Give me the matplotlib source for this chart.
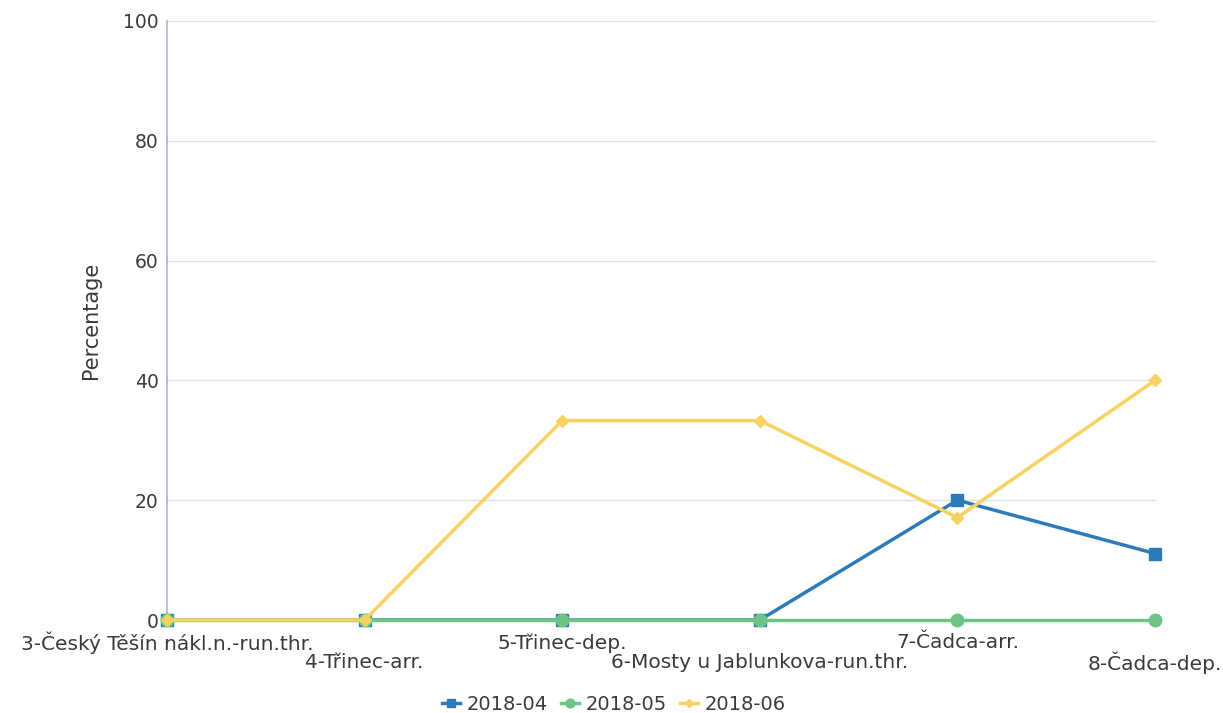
import matplotlib
matplotlib.use("Agg")
import matplotlib.pyplot as plt
import numpy as np

# data
stations = ["3-Český Těšín nákl.n.-run.thr.", "4-Třinec-arr.", "5-Třinec-dep.",
            "6-Mosty u Jablunkova-run.thr.", "7-Čadca-arr.", "8-Čadca-dep."]
s_04 = [0, 0, 0, 0, 20, 11.1]
s_05 = [0, 0, 0, 0, 0, 0]
s_06 = [0, 0, 33.3, 33.3, 17.1, 40]
yticks = [0, 20, 40, 60, 80, 100]

plt.rcParams['font.family'] = ['DejaVu Sans']
textcol = '#3a3a3a'

fig = plt.figure(figsize=(12.23, 7.13), dpi=100)
ax = fig.add_axes([167/1223, 93/713, 990/1223, 599/713])

x = np.arange(len(stations))
ax.plot(x, s_04, color='#2b7bba', lw=2.5, marker='s', ms=9, label='2018-04', zorder=3, clip_on=False)
ax.plot(x, s_05, color='#6cc486', lw=2.5, marker='o', ms=9, label='2018-05', zorder=4, clip_on=False)
ax.plot(x, s_06, color='#f7d260', lw=2.5, marker='D', ms=6, label='2018-06', zorder=5, clip_on=False)

ax.set_xlim(0, 5.01)
ax.set_ylim(0, 100)
ax.set_yticks(yticks)
ax.set_yticklabels([str(v) for v in yticks], fontsize=13.5, color=textcol)
ax.yaxis.grid(True, color='#e3e3e3', lw=1)
ax.set_axisbelow(True)
ax.tick_params(axis='y', length=0, pad=6)
ax.tick_params(axis='x', length=0)

# category labels alternate between two rows
ax.set_xticks(x)
ax.set_xticklabels([])
for i, name in enumerate(stations):
    off = 23 if i % 2 == 0 else 43
    ax.annotate(name, (i, 0), xycoords='data', xytext=(0, -off), textcoords='offset pixels',
                ha='center', va='center', fontsize=14.5, color=textcol, annotation_clip=False)

for sp in ['top', 'right', 'bottom']:
    ax.spines[sp].set_visible(False)
ax.spines['left'].set_color('#b0b0d8')
ax.spines['left'].set_linewidth(1.2)

ax.set_ylabel('Percentage', fontsize=15, color=textcol, labelpad=16)

leg = fig.legend(loc='center', bbox_to_anchor=(614/1223, 1 - 704/713), ncol=3, frameon=False,
                 fontsize=14, handlelength=0.9, handletextpad=0.35, columnspacing=0.7,
                 markerscale=0.7, borderpad=0)
for t in leg.get_texts():
    t.set_color(textcol)

fig.savefig('out.png', dpi=100)
